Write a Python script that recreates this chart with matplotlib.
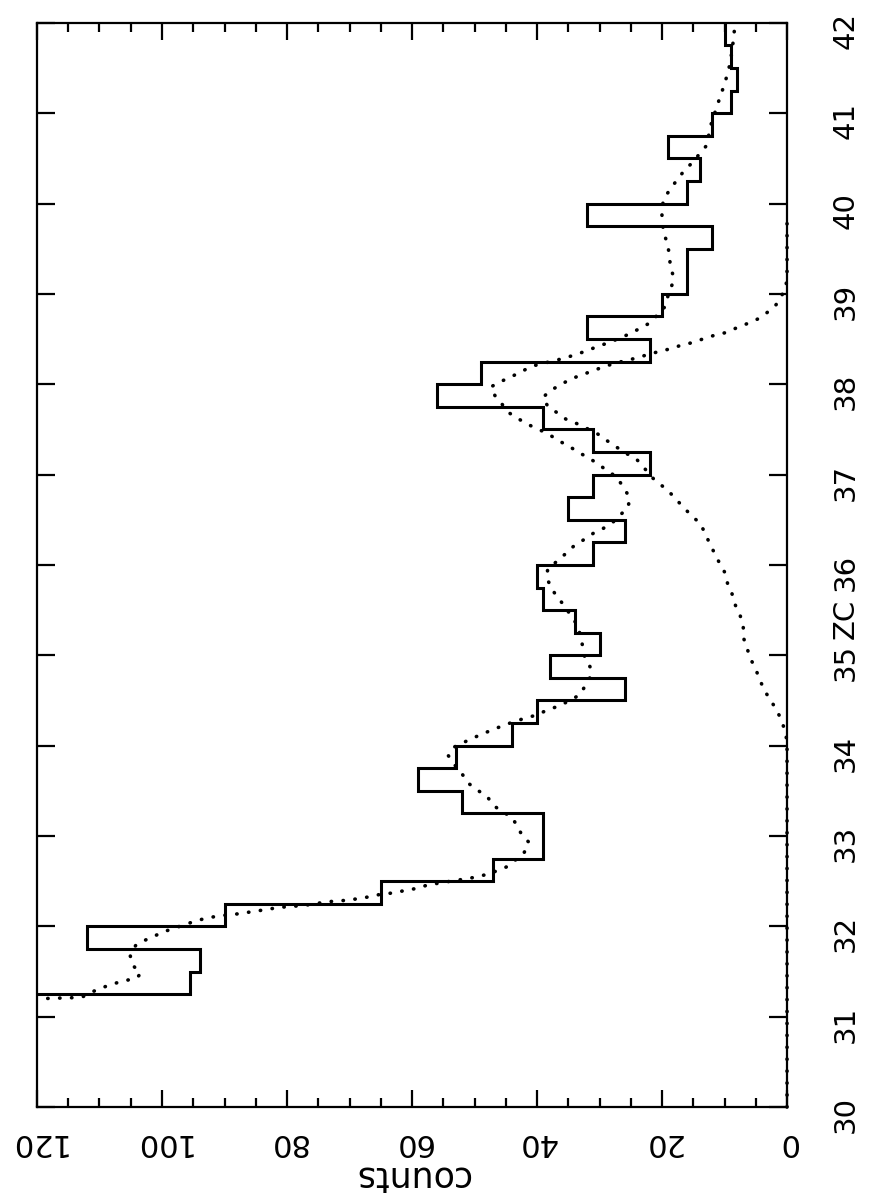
import numpy as np
import matplotlib
matplotlib.use('Agg')
import matplotlib.pyplot as plt
from matplotlib.ticker import MultipleLocator
import matplotlib.transforms as mtrans

# histogram: bin edges in ZC (0.25 wide), counts per bin (first bin is off scale)
edges = [31.0, 31.25, 31.5, 31.75, 32.0, 32.25, 32.5, 32.75, 33.0, 33.25, 33.5,
         33.75, 34.0, 34.25, 34.5, 34.75, 35.0, 35.25, 35.5, 35.75, 36.0, 36.25,
         36.5, 36.75, 37.0, 37.25, 37.5, 37.75, 38.0, 38.25, 38.5, 38.75, 39.0,
         39.25, 39.5, 39.75, 40.0, 40.25, 40.5, 40.75, 41.0, 41.25, 41.5, 41.75, 42.0]
counts = [130, 95.5, 94, 112, 90, 65, 47, 39, 39, 52, 59,
          53, 44, 40, 26, 38, 30, 34, 39, 40, 31, 26,
          35, 31, 22, 31, 39, 56, 49, 22, 32, 20, 16,
          16, 12, 32, 16, 14, 19, 12, 9, 8, 9, 10]

# total fit (dotted)
fit_zc = [31.19, 31.21, 31.22, 31.28, 31.33, 31.37, 31.40, 31.43, 31.48, 31.57,
          31.68, 31.79, 31.85, 31.90, 31.95, 31.99, 32.03, 32.07, 32.10, 32.12,
          32.13, 32.15, 32.17, 32.19, 32.21, 32.22, 32.23, 32.245, 32.27, 32.28,
          32.29, 32.31, 32.33, 32.36, 32.37, 32.40, 32.42, 32.46, 32.48, 32.50,
          32.52, 32.54, 32.57, 32.61, 32.66, 32.81, 32.93, 33.01, 33.11, 33.21,
          33.27, 33.34, 33.44, 33.51, 33.59, 33.70, 33.78, 33.89, 33.98, 34.03,
          34.08, 34.13, 34.18, 34.23, 34.27, 34.31, 34.34, 34.40, 34.44, 34.50,
          34.56, 34.66, 34.77, 34.87, 34.99, 35.10, 35.23, 35.34, 35.45, 35.54,
          35.63, 35.73, 35.85, 35.96, 36.04, 36.12, 36.21, 36.28, 36.35, 36.40,
          36.47, 36.64, 36.75, 36.86, 36.97, 37.04, 37.11, 37.18, 37.24, 37.31,
          37.37, 37.44, 37.50, 37.55, 37.61, 37.68, 37.87, 37.97, 38.03, 38.08,
          38.14, 38.20, 38.23, 38.29, 38.33, 38.37, 38.42, 38.46, 38.56, 38.62,
          38.68, 38.86, 38.99, 39.10, 39.22, 39.32, 39.43, 39.57, 39.69, 39.80,
          39.93, 40.05, 40.16, 40.26, 40.36, 40.45, 40.64, 40.89, 41.12, 41.24,
          41.35, 41.46, 41.60, 41.80, 42.0]
fit_counts = [124, 114.4, 112.7, 111.0, 109.2, 107.5, 105.8, 104.0, 103.4, 104.7,
              105.1, 104.2, 102.6, 101.0, 99.3, 97.6, 95.9, 94.1, 92.2, 90.4,
              88.7, 86.7, 84.8, 83.0, 81.2, 79.5, 77.6, 75.8, 73.9, 72.0,
              70.2, 68.3, 66.6, 64.7, 62.8, 61.0, 59.2, 57.4, 55.5, 53.8,
              51.9, 50.2, 48.3, 46.6, 44.8, 42.1, 41.3, 42.4, 43.2, 44.0,
              45.6, 47.0, 48.0, 49.6, 51.1, 52.1, 53.1, 54.2, 53.4, 51.9,
              50.4, 48.7, 47.0, 45.1, 43.5, 41.6, 40.0, 38.2, 36.4, 34.8,
              33.2, 32.3, 31.4, 31.5, 32.4, 32.7, 33.1, 33.6, 34.7, 35.5,
              36.6, 37.6, 38.4, 38.3, 36.8, 35.5, 34.1, 32.5, 31.0, 29.5,
              27.9, 25.4, 25.2, 26.2, 27.2, 28.7, 30.1, 31.6, 33.2, 34.8,
              36.4, 38.0, 39.7, 41.3, 42.8, 44.4, 46.7, 47.4, 45.8, 44.2,
              42.5, 40.8, 39.1, 35.5, 33.8, 32.0, 30.3, 28.5, 25.1, 23.5,
              21.9, 19.5, 19.0, 18.4, 18.3, 18.7, 18.8, 19.2, 19.8, 19.9,
              20.1, 19.7, 18.7, 17.6, 16.5, 15.2, 12.9, 12.1, 11.0, 10.4,
              9.9, 9.4, 9.0, 8.6, 8.3]

# single peak component (dotted)
comp_zc = [30.0, 34.05, 34.18, 34.30, 34.41, 34.51, 34.62, 34.74, 34.86, 34.97,
           35.08, 35.20, 35.33, 35.44, 35.56, 35.68, 35.79, 35.91, 36.02, 36.13,
           36.24, 36.35, 36.46, 36.54, 36.64, 36.73, 36.82, 36.91, 36.98, 37.07,
           37.18, 37.24, 37.31, 37.38, 37.45, 37.51, 37.57, 37.61, 37.68, 37.76,
           37.85, 37.93, 37.99, 38.06, 38.10, 38.15, 38.19, 38.23, 38.29, 38.33,
           38.36, 38.39, 38.43, 38.46, 38.50, 38.54, 38.57, 38.62, 38.67, 38.72,
           38.79, 38.88, 38.98, 39.09, 39.2, 39.9]
comp_counts = [0, 0, 0.4, 1.0, 1.8, 2.7, 3.7, 4.4, 5.1, 5.9,
               6.4, 7.0, 7.0, 7.5, 8.3, 8.8, 9.5, 9.9, 10.8, 11.6,
               12.4, 13.1, 13.9, 15.2, 16.6, 17.8, 19.0, 20.6, 21.8, 22.8,
               24.2, 25.9, 27.4, 28.9, 30.3, 32.0, 33.8, 35.3, 36.7, 38.3,
               39.1, 37.9, 36.3, 34.6, 32.9, 31.1, 29.4, 27.7, 24.1, 22.2,
               20.6, 18.8, 17.0, 15.2, 13.5, 11.7, 9.9, 8.2, 6.4, 4.75,
               3.25, 1.76, 0.85, 0.16, 0, 0]

count_ticks = [0, 20, 40, 60, 80, 100, 120]
zc_ticks = [30, 31, 32, 33, 34, 35, 36, 37, 38, 39, 40, 41, 42]

plt.rcParams['font.family'] = 'DejaVu Sans'

fig = plt.figure(figsize=(8.85, 12.02), dpi=100)
ax = fig.add_axes([0.0418, 0.079, 0.8475, 0.902])

ax.stairs(counts, edges, orientation='horizontal', baseline=None,
          color='black', linewidth=2.2)
ax.plot(fit_counts, fit_zc, color='black', linestyle=(0, (0.1, 3.2)),
        dash_capstyle='round', linewidth=2.6)
ax.plot(comp_counts, comp_zc, color='black', linestyle=(0, (0.1, 3.2)),
        dash_capstyle='round', linewidth=2.6, clip_on=False)

ax.set_xlim(120, 0)
ax.set_ylim(30, 42)

for s in ax.spines.values():
    s.set_linewidth(1.6)

ax.set_xticks(count_ticks)
ax.set_xticklabels([str(v) for v in count_ticks])
ax.xaxis.set_minor_locator(MultipleLocator(5))
ax.tick_params(axis='x', which='both', direction='in', top=True, bottom=True,
               width=1.6, labelsize=22, labelrotation=180, pad=15)
ax.tick_params(axis='x', which='major', length=12)
ax.tick_params(axis='x', which='minor', length=6.5)

ax.set_yticks(zc_ticks)
ax.set_yticklabels([str(v) for v in zc_ticks])
ax.tick_params(axis='y', which='major', direction='in', left=True, right=True,
               labelleft=False, labelright=True, length=13, width=1.6,
               labelsize=21, labelrotation=90, pad=32)

ax.set_xlabel('counts', fontsize=25, rotation=180, labelpad=2)

trans = mtrans.blended_transform_factory(ax.transAxes, ax.transData)
ax.text(1.0 + 45 / 750, 35.40, 'ZC', transform=trans, rotation=90,
        ha='left', va='center', fontsize=21)

fig.savefig('out.png', dpi=100)
